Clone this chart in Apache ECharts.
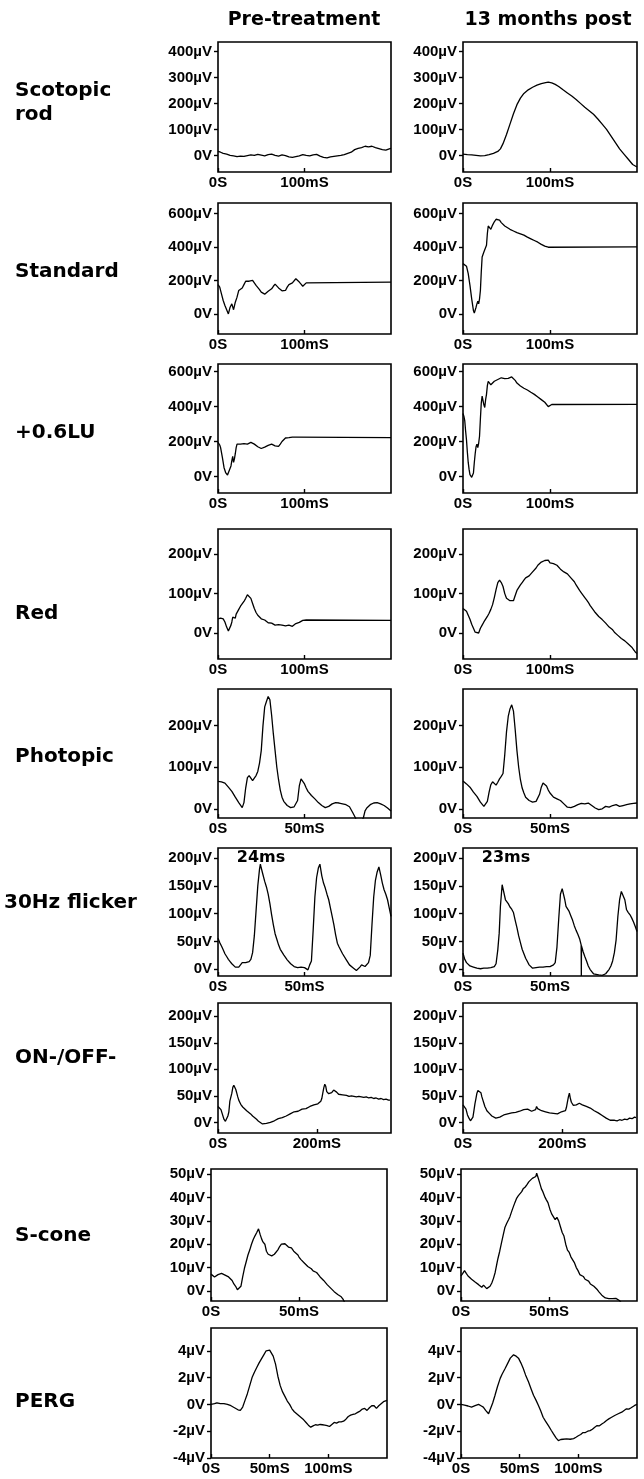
<!DOCTYPE html>
<html><head><meta charset="utf-8">
<script src="https://cdn.jsdelivr.net/npm/echarts@6/dist/echarts.min.js"></script>
<style>html,body{margin:0;padding:0;background:#fff}#c{width:644px;height:1479px}</style>
</head><body><div id="c"></div>
<script>
// ---------- text ----------
const columnTitles = ['Pre-treatment', '13 months post'];
const rowNames = [['Scotopic', 'rod'], ['Standard'], ['+0.6LU'], ['Red'], ['Photopic'], ['30Hz flicker'], ['ON-/OFF-'], ['S-cone'], ['PERG']];
const flickerNotes = ['24ms', '23ms'];

// ---------- axis ranges & ticks (µV, ms) ----------
const yMin = [-64, -120, -95, -66, -22, -12, -20, -4.3, -4];
const yMax = [436, 662, 644, 264, 288, 218, 225, 52.2, 5.7];
const xMax = [200, 200, 200, 200, 100, 100, 350, 100, 150];
const yTickRod = [0, 100, 200, 300, 400];
const yTickStd = [0, 200, 400, 600];
const yTickRed = [0, 100, 200];
const yTickFlk = [0, 50, 100, 150, 200];
const yTickS = [0, 10, 20, 30, 40, 50];
const yTickPerg = [-4, -2, 0, 2, 4];
const xTick100 = [0, 100];
const xTick50 = [0, 50];
const xTick200 = [0, 200];
const xTickPerg = [0, 50, 100];

// ---------- traces [ms, µV] ----------
const scotopicPre = [[0,15],[3,12],[6,8],[10,5],[14,0],[18,-2],[22,-5],[26,-3],[30,-4],[34,-1],[38,2],[42,0],[46,4],[50,1],[54,-2],[58,3],[62,5],[66,0],[70,-3],[74,2],[78,-1],[82,-6],[86,-8],[90,-5],[94,-2],[98,3],[102,0],[106,-2],[110,2],[114,4],[118,-3],[122,-8],[126,-10],[130,-6],[134,-4],[138,-2],[142,0],[146,3],[150,8],[154,12],[158,22],[162,27],[166,30],[170,35],[174,33],[178,35],[182,30],[186,26],[190,22],[194,20],[198,25],[200,27]];
const scotopicPost = [[0,5],[5,3],[10,2],[15,0],[20,-2],[25,-1],[30,3],[35,8],[40,15],[43,25],[46,45],[50,80],[54,120],[58,160],[62,195],[66,220],[70,238],[75,252],[80,262],[85,270],[90,276],[95,280],[98,282],[102,279],[106,273],[110,265],[115,252],[120,240],[125,228],[130,215],[135,200],[140,185],[145,172],[150,158],[155,140],[160,120],[165,100],[170,75],[175,50],[180,25],[185,5],[190,-15],[195,-35],[200,-45]];
const standardPre = [[0,175],[2,160],[4,120],[6,80],[8,50],[10,25],[12,0],[14,40],[16,60],[18,25],[20,70],[22,100],[24,140],[26,135],[28,155],[30,175],[32,195],[34,200],[36,195],[38,205],[40,200],[42,185],[44,170],[46,160],[48,145],[50,130],[52,120],[54,118],[56,125],[58,135],[60,145],[62,150],[64,165],[66,178],[68,170],[70,155],[72,145],[74,138],[76,135],[78,140],[80,160],[82,175],[84,170],[86,185],[88,195],[90,210],[92,205],[94,190],[96,178],[98,165],[100,175],[102,185],[104,190],[200,190]];
const standardPost = [[0,300],[2,295],[4,285],[6,240],[8,170],[10,90],[12,20],[13,5],[14,10],[15,40],[16,60],[17,75],[18,60],[19,90],[20,140],[21,250],[22,340],[23,355],[24,370],[25,380],[26,375],[27,410],[28,480],[29,525],[30,530],[31,515],[32,505],[33,510],[34,530],[36,550],[38,565],[40,568],[42,560],[44,545],[46,535],[48,525],[50,515],[54,505],[58,495],[62,485],[66,478],[70,470],[74,458],[78,448],[82,438],[86,428],[90,415],[94,405],[96,402],[98,398],[100,400],[200,400]];
const luPre = [[0,195],[2,180],[3,165],[5,110],[7,50],[9,20],[11,8],[13,15],[15,60],[16,90],[17,115],[18,80],[19,100],[20,130],[21,165],[22,185],[24,175],[26,185],[28,192],[30,188],[32,182],[34,185],[36,190],[38,195],[40,192],[42,185],[44,178],[46,170],[48,162],[50,160],[52,165],[54,168],[56,172],[58,178],[60,182],[62,185],[64,182],[66,175],[68,170],[70,172],[72,185],[74,200],[76,210],[78,220],[80,225],[82,222],[84,218],[86,225],[88,220],[90,225],[92,222],[200,222]];
const luPost = [[0,360],[1,345],[2,320],[3,260],[4,210],[5,140],[6,80],[7,40],[8,10],[9,0],[10,-5],[11,-8],[12,20],[13,80],[14,130],[15,170],[16,185],[17,165],[18,190],[19,230],[20,330],[21,420],[22,460],[23,455],[24,410],[25,395],[26,440],[27,470],[28,520],[29,545],[30,555],[31,540],[32,525],[34,530],[36,545],[38,550],[40,555],[42,560],[44,565],[46,562],[48,560],[50,558],[52,562],[54,565],[56,570],[58,565],[60,550],[62,535],[64,525],[66,518],[68,512],[70,505],[72,500],[74,495],[76,490],[78,482],[80,475],[82,470],[84,465],[86,455],[88,445],[90,440],[92,430],[94,425],[96,415],[98,400],[100,405],[102,412],[104,413],[200,413]];
const redPre = [[0,36],[3,38],[6,36],[8,28],[10,15],[12,5],[13,3],[14,8],[15,20],[16,28],[17,40],[18,45],[19,35],[20,38],[21,48],[22,52],[24,60],[26,68],[28,72],[30,80],[32,88],[34,97],[35,101],[36,98],[38,88],[40,75],[42,62],[44,52],[46,45],[48,40],[50,36],[52,34],[54,33],[56,30],[58,26],[60,24],[62,25],[64,22],[66,20],[68,22],[70,21],[72,18],[74,20],[76,22],[78,18],[80,22],[82,20],[84,19],[86,17],[88,20],[90,24],[92,20],[94,27],[96,29],[98,32],[100,30],[102,33],[200,32]];
const redPost = [[0,62],[2,60],[4,55],[6,45],[8,35],[10,22],[12,12],[14,2],[16,-3],[18,0],[20,12],[22,20],[24,28],[26,35],[28,42],[30,50],[32,60],[34,72],[36,90],[38,110],[40,128],[42,134],[44,128],[46,118],[48,100],[50,88],[52,85],[54,82],[56,78],[58,82],[60,95],[62,108],[64,115],[66,122],[68,128],[70,134],[72,140],[74,138],[76,145],[78,150],[80,155],[82,160],[84,165],[86,172],[88,175],[90,180],[92,178],[94,184],[96,180],[98,185],[100,178],[102,182],[104,176],[106,180],[108,172],[110,168],[112,162],[114,160],[116,155],[118,152],[120,150],[122,148],[124,140],[126,135],[128,130],[130,122],[132,115],[134,108],[136,102],[138,98],[140,90],[142,84],[144,78],[146,70],[148,65],[150,58],[152,52],[154,48],[156,42],[158,38],[160,34],[162,30],[164,25],[166,22],[168,15],[170,12],[172,8],[174,2],[176,-2],[178,-6],[180,-10],[182,-14],[184,-18],[186,-20],[188,-25],[190,-28],[192,-30],[194,-36],[196,-42],[198,-48],[200,-52]];
const photopicPre = [[0,66],[2,65],[4,62],[6,52],[8,42],[10,28],[12,15],[14,3],[15,15],[16,50],[17,75],[18,80],[19,76],[20,68],[21,72],[22,80],[23,90],[24,110],[25,140],[26,200],[27,245],[28,258],[29,270],[29.5,274],[30,262],[31,225],[32,180],[33,140],[34,100],[35,70],[36,45],[37,28],[38,18],[40,8],[42,3],[44,5],[46,20],[47,55],[48,72],[49,70],[50,60],[51,50],[52,42],[54,32],[56,24],[58,15],[60,8],[62,3],[64,6],[66,12],[68,15],[70,14],[72,12],[74,10],[76,5],[78,-10],[79.5,-22],[80,-30],[82,-35],[84,-22],[85,-5],[86,2],[88,10],[90,14],[92,15],[94,12],[96,8],[98,2],[100,-5]];
const photopicPost = [[0,67],[2,60],[4,52],[6,40],[8,30],[10,16],[12,6],[13,4],[14,18],[15,40],[16,58],[17,65],[18,66],[19,57],[20,64],[21,72],[22,78],[23,85],[24,130],[25,185],[26,222],[27,240],[28,250],[29,235],[30,190],[31,140],[32,100],[33,70],[34,50],[35,38],[36,28],[38,20],[40,16],[42,18],[44,35],[45,52],[46,62],[47,63],[48,55],[49,45],[50,38],[52,28],[54,24],[56,20],[58,12],[60,4],[62,3],[64,6],[66,10],[68,13],[70,12],[72,14],[74,8],[76,2],[78,-2],[80,0],[82,6],[84,4],[86,8],[88,10],[90,6],[92,8],[94,10],[96,12],[98,13],[100,14]];
const flickerPre = [[0,56],[1,48],[2,42],[3,35],[4,28],[5,23],[6,18],[7,14],[8,10],[9,7],[10,4],[11,2],[12,4],[13,8],[14,12],[15,14],[16,12],[17,11],[18,14],[19,18],[20,30],[21,60],[22,105],[23,150],[24,180],[24.5,189],[25,182],[26,170],[27,158],[28,148],[29,135],[30,118],[31,98],[32,80],[33,64],[34,54],[35,44],[36,36],[38,26],[40,17],[42,10],[44,5],[46,3],[48,4],[49,6],[50,3],[51,1],[52,-1],[53,8],[54,15],[55,70],[56,130],[57,165],[58,182],[58.9,189],[60,168],[61,155],[62,146],[63,135],[64,125],[65,110],[66,95],[67,80],[68,62],[69,47],[70,40],[72,28],[74,18],[76,8],[78,3],[80,-2],[82,4],[83,8],[84,6],[85,5],[86,8],[87,12],[88,25],[89,80],[90,130],[91,160],[92,175],[93,184],[94,170],[95,155],[96,143],[97,135],[98,125],[99,110],[100,95]];
const flickerPost = [[0,29],[1,18],[2,12],[3,9],[4,6],[5,5],[6,4],[7,3],[8,2],[9,2],[10,1],[11,0],[12,2],[13,-1],[14,2],[15,4],[16,3],[17,3],[18,5],[19,10],[20,35],[20.8,65],[21.5,113],[22.5,152],[23.5,149],[24.4,125],[25,122],[26,118],[27,112],[28,108],[29,102],[30,88],[31,75],[32,60],[33,48],[34,36],[35,28],[36,20],[37,14],[38,8],[39,5],[40,2],[42,3],[44,4],[46,4],[48,5],[50,5],[52,8],[53,12],[54,40],[55,90],[56,135],[57,145],[57.7,143],[58.5,125],[59.2,113],[60,110],[61,104],[62,96],[63,88],[64,78],[65,70],[66,63],[67,55],[67.9,44],[68,-12],[68.1,42],[69,32],[70,23],[71,15],[72,6],[73,0],[74,-4],[75,-8],[76,-10],[78,-10],[80,-11],[82,-8],[84,0],[85,6],[86,15],[87,30],[88,53],[89,95],[90,125],[91,140],[92,143],[93,125],[94,107],[95,102],[96,98],[97,92],[98,85],[99,77],[100,68]];
const onoffPre = [[0,30],[3,28],[6,24],[9,15],[12,6],[15,2],[18,4],[20,12],[22,20],[24,40],[26,42],[28,55],[30,66],[32,70],[34,67],[36,62],[38,55],[40,48],[42,42],[44,38],[46,34],[48,31],[50,29],[54,26],[58,22],[62,20],[66,16],[70,12],[74,9],[78,6],[82,2],[86,0],[90,-3],[94,-4],[98,-2],[102,-3],[106,0],[110,1],[114,3],[118,4],[122,7],[126,6],[130,9],[134,11],[138,12],[142,15],[146,16],[150,19],[154,20],[158,22],[162,21],[166,24],[170,25],[174,27],[178,26],[182,29],[186,30],[190,31],[194,33],[198,32],[202,35],[206,36],[208,40],[210,45],[212,55],[214,65],[216,72],[218,68],[220,58],[222,56],[224,54],[226,52],[228,55],[230,56],[232,58],[234,61],[236,62],[238,60],[240,57],[242,54],[244,53],[248,51],[252,52],[256,50],[260,51],[265,49],[270,50],[275,49],[280,48],[285,49],[290,48],[295,47],[300,48],[305,46],[310,47],[315,45],[320,46],[325,44],[330,45],[335,43],[340,44],[345,42],[348,42]];
const onoffPost = [[0,33],[3,30],[6,25],[9,14],[12,8],[15,3],[18,2],[20,10],[22,22],[24,35],[26,45],[28,55],[30,60],[32,62],[34,60],[36,56],[38,48],[40,42],[42,36],[44,30],[46,26],[48,22],[50,20],[54,16],[58,12],[62,9],[66,8],[70,7],[74,10],[78,12],[82,14],[86,13],[90,16],[94,15],[98,18],[102,17],[106,19],[110,18],[114,21],[118,22],[122,24],[126,27],[130,25],[134,23],[138,21],[142,22],[146,24],[148,30],[150,26],[154,24],[158,22],[162,21],[166,20],[170,19],[174,18],[178,17],[182,17],[186,18],[190,16],[194,18],[198,20],[202,19],[206,22],[208,28],[210,38],[212,48],[214,55],[216,45],[218,38],[220,35],[222,32],[224,30],[226,31],[228,33],[230,35],[232,34],[234,36],[236,35],[240,33],[244,31],[248,30],[252,28],[256,27],[260,25],[264,22],[268,20],[272,18],[276,16],[280,13],[284,10],[288,8],[292,6],[296,4],[300,3],[305,4],[310,3],[315,5],[320,4],[325,6],[330,5],[335,8],[340,7],[345,10],[348,9]];
const sconePre = [[0,7.2],[1,6.5],[2,6],[3,6.5],[4,7],[5,7.2],[6,7.5],[7,7],[8,6.8],[9,6.7],[10,6],[11,5.2],[12,4.5],[13,3],[14,2],[15,0.5],[15.5,-0.3],[16,0.5],[17,2],[18,6],[19,9.7],[20,12.5],[21,15.4],[22,17.5],[23,20],[24,22],[25,23.6],[26,25],[27,26.6],[28,24],[28.7,22.4],[29.5,21],[30.6,20],[31.5,17],[32.5,15.7],[33.5,16],[34.5,15],[36,15.7],[37,16.5],[38,17.6],[39,19],[40,20],[41,20.6],[42,20.2],[43,19.5],[44,18.8],[45.7,18.4],[47,17],[48,16.5],[49.4,15.4],[50,14.5],[51,13.5],[52,12.7],[53,12],[54,11.2],[55,10.5],[56,10],[57,9.5],[58,8.6],[59,8.4],[60,7.9],[61,7],[62,6],[63,5.2],[64,4.5],[65,3.8],[66,2.7],[67,2],[68,1.2],[69,0.5],[70,-0.3],[71,-0.8],[72,-1.5],[73,-2],[74,-2.5],[75,-3.5],[76,-5],[80,-8]];
const sconePost = [[0,6.4],[1,7.5],[2,8.7],[3,7.5],[4,6.4],[5,5.8],[6,5],[7,4.2],[8,3.8],[9,3],[10,2.7],[11,2],[11.8,1.6],[12.8,2.5],[13.7,2.2],[14.6,1],[15.6,0.4],[16.5,2],[17.5,3.4],[18.5,5.5],[19.4,7.9],[20.2,11],[21,13.9],[22,17],[23,20.6],[24,24],[25,27.3],[26,29],[27,30.5],[27.8,31.8],[29,34.5],[30.6,37.8],[31.5,39.5],[32.5,40.7],[33.5,40],[34.5,42.5],[35.3,43.7],[36.5,44.5],[37.5,45.5],[38.5,46.7],[39.5,47],[40.5,48.2],[41.5,47.5],[42.5,49],[43,50.4],[44,48],[45,45.5],[45.7,43.7],[46.5,42.5],[47.5,40.5],[48.5,39],[49.4,37.8],[50.5,35],[51.5,33],[52.5,32.5],[53.5,30.5],[54.5,31.5],[55.5,30],[56.5,27.5],[57.5,25],[58.5,23.5],[59.5,20],[60.5,17.5],[61.5,16.5],[62.5,14.5],[63.5,14.8],[64.5,12],[65.5,10],[66.5,8.7],[67.5,7],[68.5,6.8],[69.5,6.2],[70.5,5],[71.5,4.5],[72.5,4.2],[73.5,3],[74.5,2.5],[75.5,2],[76.5,1.5],[77.5,0.5],[78.5,-0.5],[80,-1.8],[81,-2.5],[82,-3],[83,-3.5],[84,-3.3],[85,-3.6],[86,-3.3],[87,-2.8],[88,-3.2],[89,-3.8],[90,-4.1],[91,-5]];
const pergPre = [[0,0],[3,0.05],[5,0.12],[8,0.05],[11,0.05],[14,0],[17,-0.1],[20,-0.25],[23,-0.4],[25,-0.45],[27,-0.2],[29,0.3],[31,0.8],[33,1.4],[35,2],[37,2.4],[39,2.75],[41,3.1],[43,3.4],[45,3.7],[47,4],[48.5,4.07],[50,4.05],[51.5,3.95],[53,3.6],[55,3],[57,2.1],[59,1.4],[61,0.93],[63,0.6],[65,0.25],[67,0],[69,-0.33],[71,-0.55],[73,-0.7],[75,-0.85],[77,-1],[79,-1.15],[81,-1.35],[83,-1.55],[85,-1.7],[87,-1.6],[89,-1.52],[91,-1.55],[93,-1.5],[95,-1.52],[97,-1.55],[99,-1.58],[101,-1.65],[103,-1.5],[105,-1.35],[107,-1.4],[109,-1.3],[111,-1.3],[113,-1.25],[115,-1.1],[117,-0.9],[119,-0.8],[121,-0.75],[123,-0.7],[125,-0.6],[127,-0.5],[129,-0.35],[131,-0.3],[133,-0.45],[135,-0.25],[137,-0.1],[139,-0.1],[141,-0.3],[143,-0.1],[145,0.05],[147,0.2],[150,0.3]];
const pergPost = [[0,0],[3,-0.05],[6,-0.12],[9,-0.2],[12,-0.1],[15,0],[17,-0.1],[19,-0.2],[21,-0.45],[23.5,-0.7],[25,-0.6],[27,0.1],[29,0.68],[31,1.3],[33.4,1.94],[35,2.25],[37.7,2.7],[40,3.1],[42,3.45],[44.8,3.7],[47,3.6],[49,3.45],[51,3.1],[53,2.7],[55,2.2],[57.5,1.69],[60,1.1],[61.8,0.68],[64,0.3],[66,-0.08],[68,-0.5],[70,-0.96],[72,-1.25],[74.5,-1.58],[77,-1.95],[78.8,-2.2],[81,-2.5],[83,-2.7],[85,-2.62],[87,-2.6],[90,-2.58],[93,-2.6],[96,-2.55],[98,-2.45],[100,-2.34],[102,-2.25],[104,-2.1],[106,-2.1],[108,-2],[110,-1.96],[112,-1.85],[114,-1.7],[116,-1.58],[118,-1.6],[120,-1.46],[122,-1.35],[124,-1.2],[126,-1.08],[128,-0.98],[131,-0.83],[134,-0.7],[137,-0.58],[139,-0.45],[141,-0.33],[143,-0.35],[145,-0.25],[148,-0.08],[150,0]];

const rowTraces = [[scotopicPre, scotopicPost],[standardPre, standardPost],[luPre, luPost],[redPre, redPost],[photopicPre, photopicPost],[flickerPre, flickerPost],[onoffPre, onoffPost],[sconePre, sconePost],[pergPre, pergPost]];
const rowYTicks = [yTickRod, yTickStd, yTickStd, yTickRed, yTickRed, yTickFlk, yTickFlk, yTickS, yTickPerg];
const rowXTicks = [xTick100, xTick100, xTick100, xTick100, xTick50, xTick50, xTick200, xTick50, xTickPerg];

// ---------- layout (px) ----------
const gridTop = [42, 203, 364, 529, 689, 848, 1003, 1169, 1328];
const gridH = [130, 131, 129, 130, 129, 128, 130, 132, 130];
const gridLeftA = [218, 218, 218, 218, 218, 218, 218, 211, 211];
const gridLeftB = [463, 463, 463, 463, 463, 463, 463, 461, 461];
const gridWA = [173, 173, 173, 173, 173, 173, 173, 176, 176];
const gridWB = [174, 174, 174, 174, 174, 174, 174, 176, 176];
const rowLabelY = [[91, 115], [272], [433], [614], [757], [903], [1058], [1236], [1402]];

const FONT = '"Liberation Sans", Arial, sans-serif';
const HEAVY = '"DejaVu Sans", sans-serif';

const grids = [], xAxes = [], yAxes = [], series = [];
let gi = 0;
for (let r = 0; r < 9; r++) {
  for (let c = 0; c < 2; c++) {
    grids.push({
      left: c === 0 ? gridLeftA[r] : gridLeftB[r],
      top: gridTop[r],
      width: c === 0 ? gridWA[r] : gridWB[r],
      height: gridH[r],
      show: true, borderColor: '#000', borderWidth: 1.6, backgroundColor: '#fff',
      containLabel: false
    });
    xAxes.push({
      type: 'value', gridIndex: gi, min: 0, max: xMax[r],
      axisLine: { show: false, onZero: false },
      splitLine: { show: false },
      axisTick: { show: true, inside: true, length: 4, customValues: rowXTicks[r], lineStyle: { color: '#000', width: 1.4 } },
      axisLabel: {
        show: true, customValues: rowXTicks[r], margin: 3,
        color: '#000', fontFamily: FONT, fontWeight: 'bold', fontSize: 15,
        formatter: v => v === 0 ? '0S' : v + 'mS'
      }
    });
    yAxes.push({
      type: 'value', gridIndex: gi, min: yMin[r], max: yMax[r],
      axisLine: { show: false, onZero: false },
      splitLine: { show: false },
      axisTick: { show: true, inside: false, length: 4, customValues: rowYTicks[r], lineStyle: { color: '#000', width: 1.4 } },
      axisLabel: {
        show: true, customValues: rowYTicks[r], margin: 6,
        color: '#000', fontFamily: FONT, fontWeight: 'bold', fontSize: 15,
        formatter: v => v === 0 ? '0V' : v + 'µV'
      }
    });
    series.push({
      type: 'line', xAxisIndex: gi, yAxisIndex: gi,
      data: rowTraces[r][c], showSymbol: false, symbol: 'none',
      clip: true, smooth: false,
      lineStyle: { color: '#000', width: 1.3 },
      silent: true, animation: false
    });
    gi++;
  }
}

const graphics = [];
columnTitles.forEach((t, c) => {
  graphics.push({
    type: 'text', left: 'auto', x: c === 0 ? 304 : 548, y: 20,
    style: { text: t, font: 'bold 19px ' + HEAVY, fill: '#000', align: 'center', verticalAlign: 'middle' }
  });
});
rowNames.forEach((lines, r) => {
  lines.forEach((txt, k) => {
    graphics.push({
      type: 'text', x: r === 5 ? 4 : 15, y: rowLabelY[r][k],
      style: { text: txt, font: 'bold 20px ' + HEAVY, fill: '#000', align: 'left', verticalAlign: 'middle' }
    });
  });
});
flickerNotes.forEach((t, c) => {
  graphics.push({
    type: 'text', x: c === 0 ? 261 : 506, y: 858,
    style: { text: t, font: 'bold 16px ' + HEAVY, fill: '#000', align: 'center', verticalAlign: 'middle' }
  });
});

const chart = echarts.init(document.getElementById('c'), null, { renderer: 'canvas' });
chart.setOption({
  backgroundColor: '#fff',
  animation: false,
  grid: grids, xAxis: xAxes, yAxis: yAxes, series: series,
  graphic: graphics
});
</script>
</body></html>
